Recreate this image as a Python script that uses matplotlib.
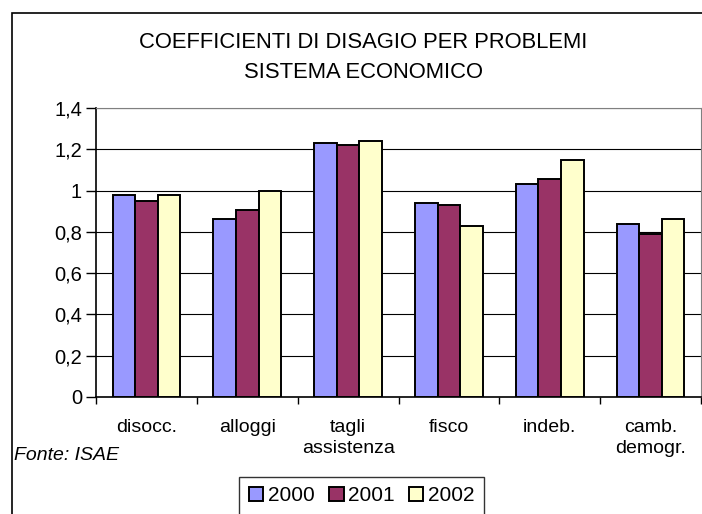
import numpy as np
import matplotlib
matplotlib.use('Agg')
import matplotlib.pyplot as plt
from matplotlib.patches import Rectangle

plt.rcParams['font.family'] = ['Liberation Sans', 'DejaVu Sans']

categorie = ['disocc.', 'alloggi', 'tagli\nassistenza', 'fisco', 'indeb.', 'camb.\ndemogr.']
anni = ['2000', '2001', '2002']
v2000 = [0.98, 0.86, 1.23, 0.94, 1.03, 0.84]
v2001 = [0.95, 0.905, 1.22, 0.93, 1.057, 0.79]
v2002 = [0.98, 1.0, 1.24, 0.83, 1.15, 0.863]
colori = ['#9999FF', '#993366', '#FFFFCC']
yticks = [0, 0.2, 0.4, 0.6, 0.8, 1.0, 1.2, 1.4]
ylabels = ['0', '0,2', '0,4', '0,6', '0,8', '1', '1,2', '1,4']

fig = plt.figure(figsize=(7.02, 5.14), dpi=100)
ax = fig.add_axes([96/702, 1-397/514, 605/702, 289/514])

x = np.arange(len(categorie))
w = 0.224
serie = [v2000, v2001, v2002]
for i in range(3):
    ax.bar(x + (i-1)*w, serie[i], w, color=colori[i], edgecolor='black',
           linewidth=1.4, label=anni[i], zorder=3)

ax.set_xlim(-0.5, len(categorie)-0.5)
ax.set_ylim(0, 1.4)
ax.set_yticks(yticks)
ax.set_yticklabels(ylabels, fontsize=14.5)
ax.yaxis.grid(True, color='black', linewidth=0.8, zorder=0)

ax.set_xticks(x)
ax.set_xticklabels(categorie, fontsize=14)
for lab in ax.get_xticklabels():
    lab.set_linespacing(1.3)
ax.tick_params(axis='x', length=0, pad=16)
ax.set_xticks(np.arange(len(categorie)+1) - 0.5, minor=True)
ax.tick_params(axis='x', which='minor', length=5, width=1, direction='out')
ax.tick_params(axis='y', length=7, width=1, direction='out', pad=3)

ax.spines['top'].set_color('#808080')
ax.spines['right'].set_color('#808080')
ax.spines['left'].set_linewidth(1.2)
ax.spines['bottom'].set_linewidth(1.2)

fig.text(363/702, 1-43/514, 'COEFFICIENTI DI DISAGIO PER PROBLEMI',
         ha='center', va='center', fontsize=15.8)
fig.text(363/702, 1-72/514, 'SISTEMA ECONOMICO',
         ha='center', va='center', fontsize=15.8)
fig.text(14/702, 1-456/514, 'Fonte: ISAE', ha='left', va='center',
         fontsize=14, style='italic')

leg = fig.legend(loc='upper center', bbox_to_anchor=(361.5/702, 1-477/514),
                 ncol=3, fontsize=15, frameon=True, fancybox=False,
                 handlelength=0.7, handleheight=0.7, handletextpad=0.2,
                 columnspacing=0.7, borderpad=0.45, borderaxespad=0)
leg.get_frame().set_edgecolor('black')
leg.get_frame().set_linewidth(1)

# cornice esterna
fig.patches.append(Rectangle((12/702, -0.1), 1.2, 1-13/514+0.1,
                             transform=fig.transFigure, fill=False,
                             edgecolor='black', linewidth=1.2))

fig.savefig('out.png', dpi=100)
